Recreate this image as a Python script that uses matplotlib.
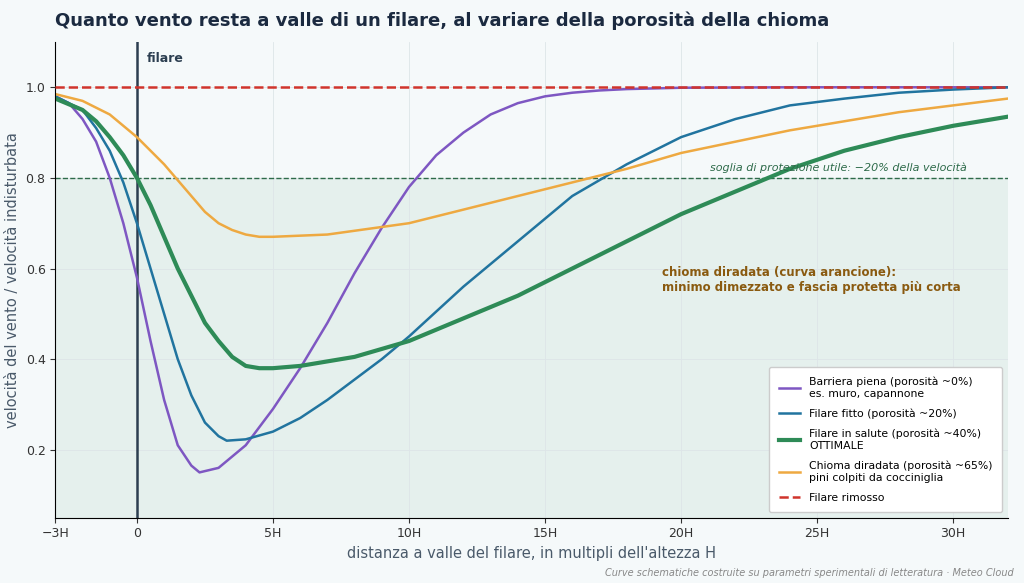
import numpy as np
from matplotlib import pyplot as plt

# distanza (multipli di H) e velocità relativa
x_piena = [-3, -2.5, -2, -1.5, -1, -0.5, 0, 0.5, 1, 1.5, 2, 2.3, 3, 4, 5, 6, 7, 8, 9, 10, 11, 12, 13, 14, 15, 16, 17, 18, 20, 24, 32]
v_piena = [0.98, 0.965, 0.93, 0.88, 0.80, 0.70, 0.58, 0.44, 0.31, 0.21, 0.165, 0.15, 0.16, 0.21, 0.29, 0.38, 0.48, 0.59, 0.69, 0.78,
           0.85, 0.90, 0.94, 0.965, 0.98, 0.988, 0.993, 0.996, 0.999, 1.0, 1.0]

x_fitto = [-3, -2, -1.5, -1, -0.5, 0, 0.5, 1, 1.5, 2, 2.5, 3, 3.3, 4, 5, 6, 7, 8, 9, 10, 12, 14, 16, 18, 20, 22, 24, 26, 28, 30, 32]
v_fitto = [0.98, 0.95, 0.91, 0.86, 0.79, 0.70, 0.60, 0.50, 0.40, 0.32, 0.26, 0.23, 0.22, 0.223, 0.24, 0.27, 0.31, 0.355, 0.40, 0.45,
           0.56, 0.66, 0.76, 0.83, 0.89, 0.93, 0.96, 0.975, 0.988, 0.995, 1.0]

x_salute = [-3, -2, -1.5, -1, -0.5, 0, 0.5, 1, 1.5, 2, 2.5, 3, 3.5, 4, 4.5, 5, 6, 8, 10, 12, 14, 16, 18, 20, 22, 24, 26, 28, 30, 32]
v_salute = [0.975, 0.95, 0.925, 0.89, 0.85, 0.80, 0.74, 0.67, 0.60, 0.54, 0.48, 0.44, 0.405, 0.385, 0.38, 0.38, 0.385, 0.405, 0.44, 0.49,
            0.54, 0.60, 0.66, 0.72, 0.77, 0.82, 0.86, 0.89, 0.915, 0.935]

x_diradata = [-3, -2, -1, 0, 1, 2, 2.5, 3, 3.5, 4, 4.5, 5, 7, 10, 12, 14, 16, 18, 20, 22, 24, 26, 28, 30, 32]
v_diradata = [0.985, 0.97, 0.94, 0.89, 0.83, 0.76, 0.725, 0.70, 0.685, 0.675, 0.67, 0.67, 0.675, 0.70, 0.73, 0.76,
              0.79, 0.82, 0.855, 0.88, 0.905, 0.925, 0.945, 0.96, 0.975]

xticks = [-3, 0, 5, 10, 15, 20, 25, 30]
xticklabels = ["−3H", "0", "5H", "10H", "15H", "20H", "25H", "30H"]

bg = "#f5f9fa"
fig = plt.figure(figsize=(10.24, 5.83), dpi=100, facecolor=bg)
ax = fig.add_axes([0.054, 0.112, 0.930, 0.816], facecolor=bg)

ax.axhspan(0, 0.8, color="#2e8b57", alpha=0.08, lw=0)
ax.axhline(0.8, color="#2e6b4a", ls="--", lw=1)
ax.axvline(0, color="#2c3e50", lw=1.8)

ax.plot(x_piena, v_piena, color="#7e57c2", lw=1.8, label="Barriera piena (porosità ~0%)\nes. muro, capannone")
ax.plot(x_fitto, v_fitto, color="#21749f", lw=1.8, label="Filare fitto (porosità ~20%)")
ax.plot(x_salute, v_salute, color="#2e8b57", lw=3, label="Filare in salute (porosità ~40%)\nOTTIMALE")
ax.plot(x_diradata, v_diradata, color="#eea941", lw=1.8, label="Chioma diradata (porosità ~65%)\npini colpiti da cocciniglia")
ax.axhline(1.0, color="#d0342c", ls="--", lw=1.8, label="Filare rimosso", zorder=5)

ax.set_xlim(-3, 32)
ax.set_ylim(0.05, 1.1)
ax.set_xticks(xticks, xticklabels)
ax.set_yticks([0.2, 0.4, 0.6, 0.8, 1.0])
ax.tick_params(colors="#333333", labelsize=9)
ax.grid(color="#dde5e8", lw=0.6)
for s in ["top", "right"]:
    ax.spines[s].set_visible(False)

ax.set_xlabel("distanza a valle del filare, in multipli dell'altezza H", color="#4a5a6a", fontsize=10.5)
ax.set_ylabel("velocità del vento / velocità indisturbata", color="#4a5a6a", fontsize=10.5)

ax.text(0.35, 1.055, "filare", fontsize=9, fontweight="bold", color="#2c3e50")
ax.text(30.5, 0.81, "soglia di protezione utile: −20% della velocità", fontsize=8,
        style="italic", color="#2e6b4a", ha="right", va="bottom")
ax.text(19.3, 0.575, "chioma diradata (curva arancione):\nminimo dimezzato e fascia protetta più corta",
        fontsize=8.5, fontweight="bold", color="#8a5a10", va="center")

leg = ax.legend(loc="lower right", fontsize=7.8, framealpha=1, labelspacing=0.9,
                borderpad=0.9, edgecolor="#cccccc", facecolor="white")

fig.text(0.054, 0.955, "Quanto vento resta a valle di un filare, al variare della porosità della chioma",
         fontsize=13, fontweight="bold", color="#1b2a40")
fig.text(0.99, 0.012, "Curve schematiche costruite su parametri sperimentali di letteratura · Meteo Cloud",
         fontsize=7, style="italic", color="#888888", ha="right")

plt.savefig("out.png", dpi=100, facecolor=bg)
